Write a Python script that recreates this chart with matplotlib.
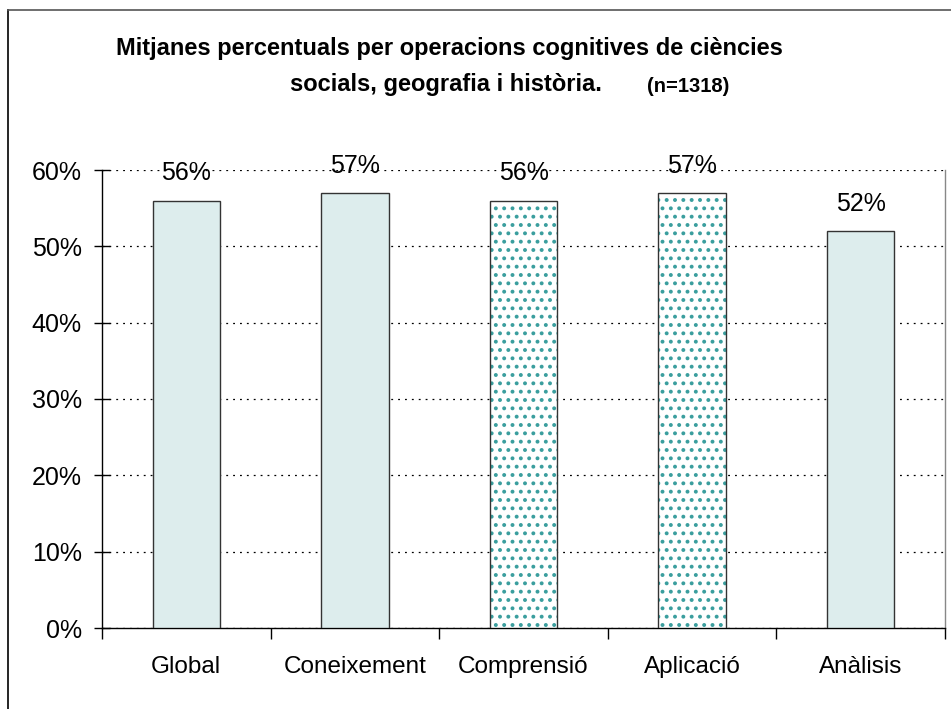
import numpy as np
import matplotlib
matplotlib.use('Agg')
import matplotlib.pyplot as plt
from matplotlib.lines import Line2D
from matplotlib.ticker import FixedLocator

categories = ['Global', 'Coneixement', 'Comprensió', 'Aplicació', 'Anàlisis']
values = [56, 57, 56, 57, 52]
patterned = [False, False, True, True, False]
y_ticks = [0, 10, 20, 30, 40, 50, 60]

plt.rcParams['font.family'] = ['Liberation Sans', 'DejaVu Sans']
plt.rcParams['hatch.linewidth'] = 1.6

fig = plt.figure(figsize=(9.51, 7.09), dpi=100)
ax = fig.add_axes([102 / 951, 1 - 628 / 709, (945 - 102) / 951, (628 - 170) / 709])

x = np.arange(len(categories))
for xi, v, pat in zip(x, values, patterned):
    if pat:
        ax.bar(xi, v, width=0.4, color='white', edgecolor='#3A9E9E', hatch='..', linewidth=0, zorder=3)
        ax.bar(xi, v, width=0.4, color='none', edgecolor='#333333', linewidth=1.0, zorder=4)
    else:
        ax.bar(xi, v, width=0.4, color='#DDEDED', edgecolor='#333333', linewidth=1.0, zorder=3)
    ax.text(xi, v + 2.0, f'{v}%', ha='center', va='bottom', fontsize=18)

ax.set_xlim(-0.5, len(categories) - 0.5)
ax.set_ylim(0, 60)
ax.set_yticks(y_ticks)
ax.set_yticklabels([f'{t}%' for t in y_ticks], fontsize=18)
ax.yaxis.grid(True, linestyle=(0, (1.5, 4)), color='black', linewidth=0.9, zorder=0)
ax.tick_params(axis='y', direction='inout', length=12, width=1, pad=8.5)

ax.set_xticks(x)
ax.set_xticklabels(categories, fontsize=17.5)
ax.tick_params(axis='x', which='major', length=0, pad=20)
ax.xaxis.set_minor_locator(FixedLocator(np.arange(-0.5, len(categories), 1.0)))
ax.tick_params(axis='x', which='minor', direction='out', length=8, width=1)

ax.spines['top'].set_visible(False)
ax.spines['right'].set_color('#888888')
ax.spines['right'].set_linewidth(1.0)
ax.spines['left'].set_linewidth(1.0)
ax.spines['bottom'].set_linewidth(1.0)

# outer chart border (left and top edges visible in the reference)
fig.add_artist(Line2D([8 / 951, 8 / 951], [0, 1 - 10 / 709], color='black', linewidth=1.2))
fig.add_artist(Line2D([8 / 951, 1], [1 - 10 / 709, 1 - 10 / 709], color='#555555', linewidth=1.2))

title_font = ['Liberation Sans Narrow', 'Liberation Sans', 'DejaVu Sans']
fig.text(449 / 951, 1 - 49 / 709, 'Mitjanes percentuals per operacions cognitives de ciències',
         ha='center', va='center', fontsize=17, fontweight='bold', family=title_font)
fig.text(446 / 951, 1 - 84 / 709, 'socials, geografia i història.',
         ha='center', va='center', fontsize=17, fontweight='bold', family=title_font)
fig.text(688 / 951, 1 - 87 / 709, '(n=1318)',
         ha='center', va='center', fontsize=14.5, fontweight='bold', family=title_font)

fig.savefig('out.png', dpi=100)
